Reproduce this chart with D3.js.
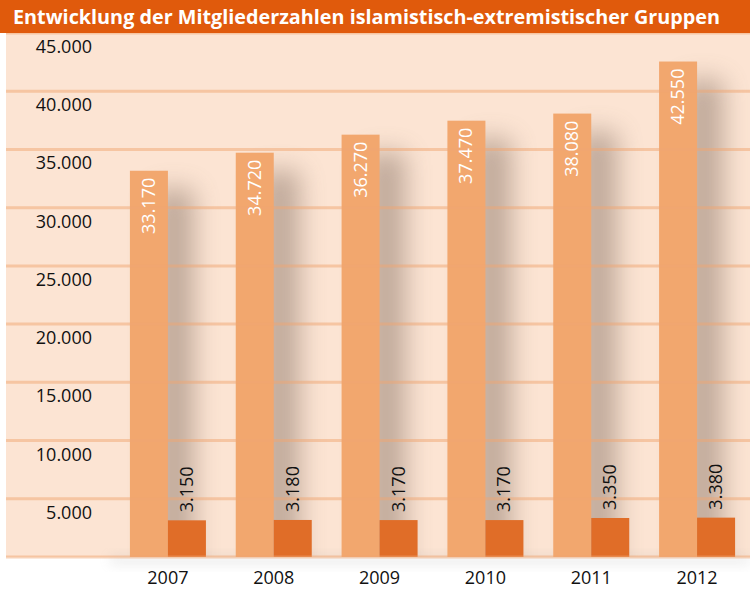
<!DOCTYPE html>
<html><head><meta charset="utf-8">
<script src="https://cdnjs.cloudflare.com/ajax/libs/d3/7.8.5/d3.min.js"></script>
<style>body{margin:0;background:#fff}svg{display:block}</style>
</head><body>
<script>
const years = ["2007","2008","2009","2010","2011","2012"];
const membersTotal = [33170, 34720, 36270, 37470, 38080, 42550];
const membersViolent = [3150, 3180, 3170, 3170, 3350, 3380];
const yTicks = [5000,10000,15000,20000,25000,30000,35000,40000,45000];
const title = "Entwicklung der Mitgliederzahlen islamistisch-extremistischer Gruppen";

const W = 750, H = 592;
const fmt = v => d3.format(",")(v).replace(/,/g, ".");
const svg = d3.select("body").append("svg").attr("width", W).attr("height", H);
const defs = svg.append("defs");
const blur = defs.append("filter").attr("id","blur").attr("x","-100%").attr("y","-30%").attr("width","300%").attr("height","160%");
blur.append("feGaussianBlur").attr("stdDeviation", 13);
const blur2 = defs.append("filter").attr("id","blur2").attr("x","-20%").attr("y","-100%").attr("width","140%").attr("height","300%");
blur2.append("feGaussianBlur").attr("stdDeviation", 6);
defs.append("clipPath").attr("id","plotclip").append("rect").attr("x",6).attr("y",33).attr("width",744).attr("height",524);

const y = d3.scaleLinear().domain([0,45000]).range([557,33]);
const x = d3.scaleBand().domain(years).range([115,750]).paddingInner(0).paddingOuter(0);
const bw = 38;

// background
svg.append("rect").attr("x",6).attr("y",33).attr("width",744).attr("height",524).attr("fill","#fce4d3");

// shadows
const sh = svg.append("g").attr("clip-path","url(#plotclip)");
years.forEach((yr,i)=>{
  const c = x(yr) + x.bandwidth()/2;
  sh.append("rect").attr("x", c - 14).attr("y", y(membersTotal[i]) + 18)
    .attr("width", 40).attr("height", 557 - y(membersTotal[i]))
    .attr("fill","#6e5a4e").attr("opacity",0.42).attr("filter","url(#blur)");
});
// bottom soft shadow
svg.append("rect").attr("x",110).attr("y",556).attr("width",640).attr("height",8)
  .attr("fill","#9a9a9a").attr("opacity",0.2).attr("filter","url(#blur2)");
svg.append("rect").attr("x",0).attr("y",558).attr("width",6).attr("height",34).attr("fill","#fff");

// bars
const g = svg.append("g");
g.selectAll(".big").data(years).join("rect").attr("class","big")
  .attr("x", d => x(d) + x.bandwidth()/2 - bw)
  .attr("y", (d,i) => y(membersTotal[i]))
  .attr("width", bw).attr("height", (d,i) => y(0) - y(membersTotal[i]))
  .attr("fill","#f2a76e");
g.selectAll(".small").data(years).join("rect").attr("class","small")
  .attr("x", d => x(d) + x.bandwidth()/2)
  .attr("y", (d,i) => y(membersViolent[i]))
  .attr("width", bw).attr("height", (d,i) => y(0) - y(membersViolent[i]))
  .attr("fill","#e06d28");

// gridlines
svg.append("g").selectAll("line").data([0].concat(yTicks)).join("line")
  .attr("x1",6).attr("x2",750)
  .attr("y1", d => y(d)).attr("y2", d => y(d))
  .attr("stroke","#f0a572").attr("stroke-opacity",0.5).attr("stroke-width",3);

// y tick labels
svg.append("g").selectAll("text").data(yTicks).join("text")
  .attr("x", 92).attr("y", d => y(d) + 20)
  .attr("text-anchor","end")
  .attr("font-family","'Open Sans', sans-serif").attr("font-size",18)
  .attr("fill","#111").text(fmt);

// x labels
svg.append("g").selectAll("text").data(years).join("text")
  .attr("x", d => x(d) + x.bandwidth()/2).attr("y", 584)
  .attr("text-anchor","middle")
  .attr("font-family","'Open Sans', sans-serif").attr("font-size",18)
  .attr("fill","#111").text(d => d);

// value labels
svg.append("g").selectAll("text").data(years).join("text")
  .attr("transform",(d,i)=>`translate(${x(d)+x.bandwidth()/2 - bw/2 + 6},${y(membersTotal[i]) + 7}) rotate(-90)`)
  .attr("text-anchor","end")
  .attr("font-family","'Open Sans', sans-serif").attr("font-size",18)
  .attr("fill","#fff").text((d,i)=>fmt(membersTotal[i]));
svg.append("g").selectAll("text").data(years).join("text")
  .attr("transform",(d,i)=>`translate(${x(d)+x.bandwidth()/2 + bw/2 + 6},${y(membersViolent[i]) - 8}) rotate(-90)`)
  .attr("text-anchor","start")
  .attr("font-family","'Open Sans', sans-serif").attr("font-size",18)
  .attr("fill","#111").text((d,i)=>fmt(membersViolent[i]));

// title bar
svg.append("rect").attr("x",0).attr("y",0).attr("width",W).attr("height",33).attr("fill","#e05a0c");
svg.append("text").attr("x",13).attr("y",24)
  .attr("font-family","'Open Sans', sans-serif").attr("font-weight","bold").attr("font-size",19)
  .attr("textLength",707).attr("lengthAdjust","spacingAndGlyphs")
  .attr("fill","#fff").text(title);
</script>
</body></html>
